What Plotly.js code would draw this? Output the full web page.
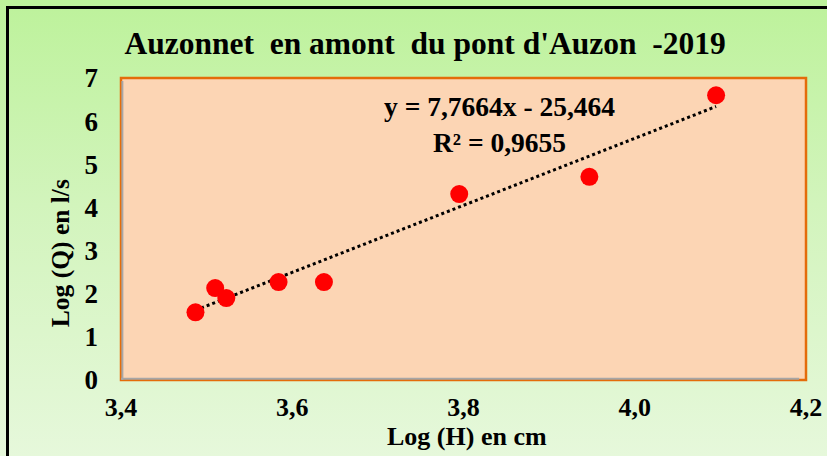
<!DOCTYPE html>
<html>
<head>
<meta charset="utf-8">
<script src="https://cdn.plot.ly/plotly-3.0.1.min.js"></script>
<style>
  html, body { margin: 0; padding: 0; }
  body { width: 827px; height: 456px; overflow: hidden;
         background: linear-gradient(to bottom, #BDF29B 0%, #D2F4BC 45%, #E6F8DB 100%); }
  #frame { position: absolute; left: 6px; top: 6px; width: 830px; height: 460px;
           border-top: 3px solid #000; border-left: 3px solid #000; pointer-events: none; }
  #chart { position: absolute; left: 0; top: 0; width: 827px; height: 456px; }
</style>
</head>
<body>
<div id="chart"></div>
<div id="frame"></div>
<script>
// Data
const logH = [3.487, 3.510, 3.523, 3.584, 3.637, 3.795, 3.947, 4.095];
const logQ = [1.57, 2.13, 1.90, 2.27, 2.27, 4.31, 4.71, 6.60];
// Linear trendline coefficients (from the chart's equation label)
const slope = 7.7664;
const intercept = -25.464;
const rSquared = 0.9655;
const xTickVals = [3.4, 3.6, 3.8, 4.0, 4.2];
const xTickText = ['3,4', '3,6', '3,8', '4,0', '4,2'];
const yTickVals = [0, 1, 2, 3, 4, 5, 6, 7];

const fmt = (v, d) => v.toFixed(d).replace('.', ',');
const xMin = Math.min(...logH), xMax = Math.max(...logH);
const trendX = [xMin, xMax];
const trendY = trendX.map(x => slope * x + intercept);

const serif = 'Liberation Serif, Times New Roman, serif';

const traces = [
  {
    x: trendX, y: trendY, type: 'scatter', mode: 'lines',
    line: { color: '#000000', width: 3, dash: 'dot' },
    hoverinfo: 'skip', showlegend: false
  },
  {
    x: logH, y: logQ, type: 'scatter', mode: 'markers',
    marker: { color: '#FF0000', size: 18 },
    showlegend: false
  }
];

const layout = {
  width: 827, height: 456,
  margin: { l: 121, r: 21, t: 78, b: 76 },
  paper_bgcolor: 'rgba(0,0,0,0)',
  plot_bgcolor: '#FCD5B4',
  font: { family: serif, color: '#000' },
  title: {
    text: "<b>Auzonnet  en amont  du pont d'Auzon  -2019</b>",
    font: { family: serif, size: 31.5, color: '#000' },
    x: 0.514, xanchor: 'center', y: 0.905, yanchor: 'middle'
  },
  xaxis: {
    range: [3.4, 4.2], tickvals: xTickVals, ticktext: xTickText,
    showgrid: false, zeroline: false, showline: false, ticks: '',
    ticklabelstandoff: 9,
    tickfont: { family: serif, size: 26, color: '#000', weight: 'bold' }
  },
  yaxis: {
    range: [0, 7], tickvals: yTickVals,
    showgrid: false, zeroline: false, showline: false, ticks: '',
    ticklabelstandoff: 22,
    tickfont: { family: serif, size: 27, color: '#000', weight: 'bold' }
  },
  shapes: [
    { type: 'rect', xref: 'paper', yref: 'paper', x0: 0, x1: 1, y0: 0, y1: 1,
      line: { color: '#E46C0A', width: 2.5 }, fillcolor: 'rgba(0,0,0,0)' },
    { type: 'line', xref: 'paper', yref: 'paper', x0: 0.002, x1: 0.002, y0: 0, y1: 0.99,
      line: { color: '#A6A6A6', width: 2 } },
    { type: 'line', xref: 'paper', yref: 'paper', x0: 0, x1: 0.99, y0: 0.004, y1: 0.004,
      line: { color: '#A6A6A6', width: 2 } }
  ],
  annotations: [
    { text: '<b>Log (H) en cm</b>', xref: 'paper', yref: 'paper',
      x: 0.505, y: -0.186, xanchor: 'center', yanchor: 'middle',
      showarrow: false, font: { family: serif, size: 26, color: '#000' } },
    { text: '<b>Log (Q) en l/s</b>', xref: 'paper', yref: 'paper',
      x: -0.089, y: 0.42, xanchor: 'center', yanchor: 'middle', textangle: -90,
      showarrow: false, font: { family: serif, size: 25.5, color: '#000' } },
    { text: '<b>y = ' + fmt(slope, 4) + 'x - ' + fmt(-intercept, 3) + '</b><br><b>R² = ' + fmt(rSquared, 4) + '</b>',
      xref: 'paper', yref: 'paper', x: 0.553, y: 0.845, xanchor: 'center', yanchor: 'middle',
      align: 'center', showarrow: false, font: { family: serif, size: 27.5, color: '#000' } }
  ]
};

Plotly.newPlot('chart', traces, layout, { displayModeBar: false, staticPlot: true });
</script>
</body>
</html>
